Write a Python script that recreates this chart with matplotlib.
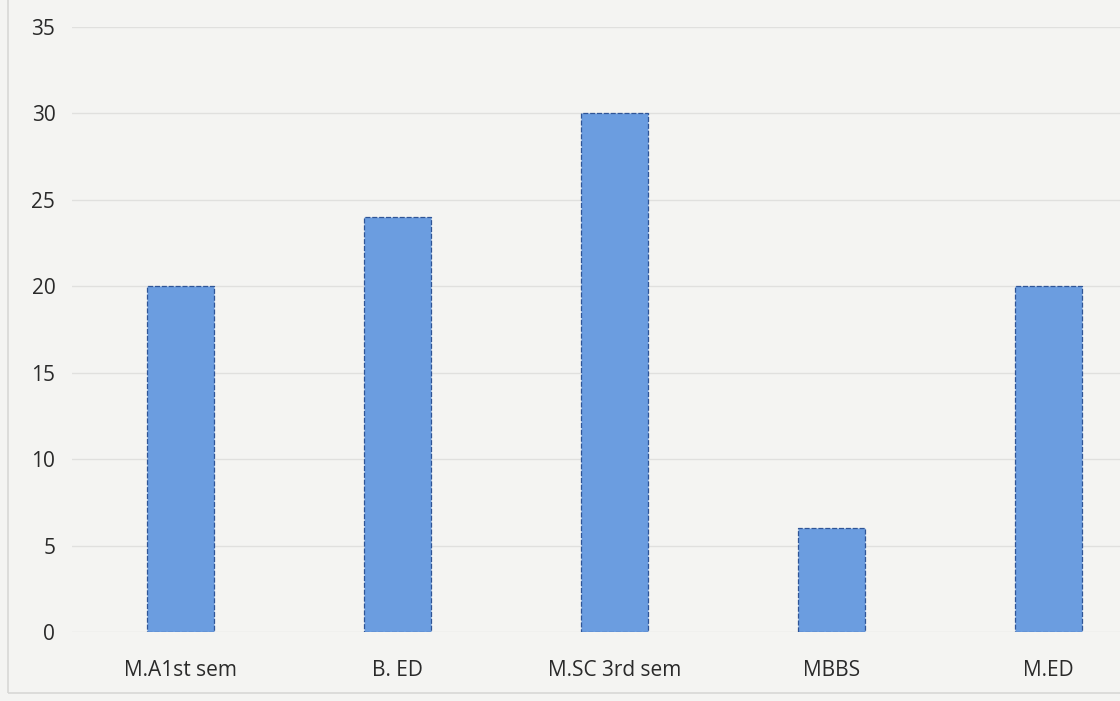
import matplotlib.pyplot as plt
from matplotlib.patches import Rectangle

# Student counts per course
courses = ['M.A1st sem', 'B. ED', 'M.SC 3rd sem', 'MBBS', 'M.ED']
counts = [20, 24, 30, 6, 20]
y_ticks = [0, 5, 10, 15, 20, 25, 30, 35]

plt.rcParams['font.family'] = ['Open Sans', 'DejaVu Sans']

fig = plt.figure(figsize=(11.2, 7.01), dpi=100)
fig.patch.set_facecolor('#f4f4f2')

# faint chart-area border
fig.patches.append(Rectangle((8 / 1120, 8 / 701), 1.2, 1.2, transform=fig.transFigure,
                             fill=False, edgecolor='#d8d8d6', linewidth=1.2))

ax = fig.add_axes([72 / 1120, 69 / 701, 1 - 72 / 1120, 605 / 701])
ax.set_facecolor('none')

x = range(len(courses))
ax.bar(x, counts, width=0.31, color='#6b9de0', edgecolor='#2f5597',
       linewidth=0.9, linestyle=(0, (4, 1.5)), zorder=3)

ax.set_xlim(-0.5, 4.33)
ax.set_ylim(0, 35)
ax.set_yticks(y_ticks)
ax.set_xticks(list(x))
ax.set_xticklabels(courses)
ax.grid(axis='y', color='#e0e0de', linewidth=1.0, zorder=0)
ax.tick_params(axis='both', length=0, labelsize=15, colors='#2a2a2a')
ax.tick_params(axis='x', pad=20)
ax.tick_params(axis='y', pad=12)
for s in ax.spines.values():
    s.set_visible(False)

fig.savefig('out.png', dpi=100, facecolor=fig.get_facecolor())
